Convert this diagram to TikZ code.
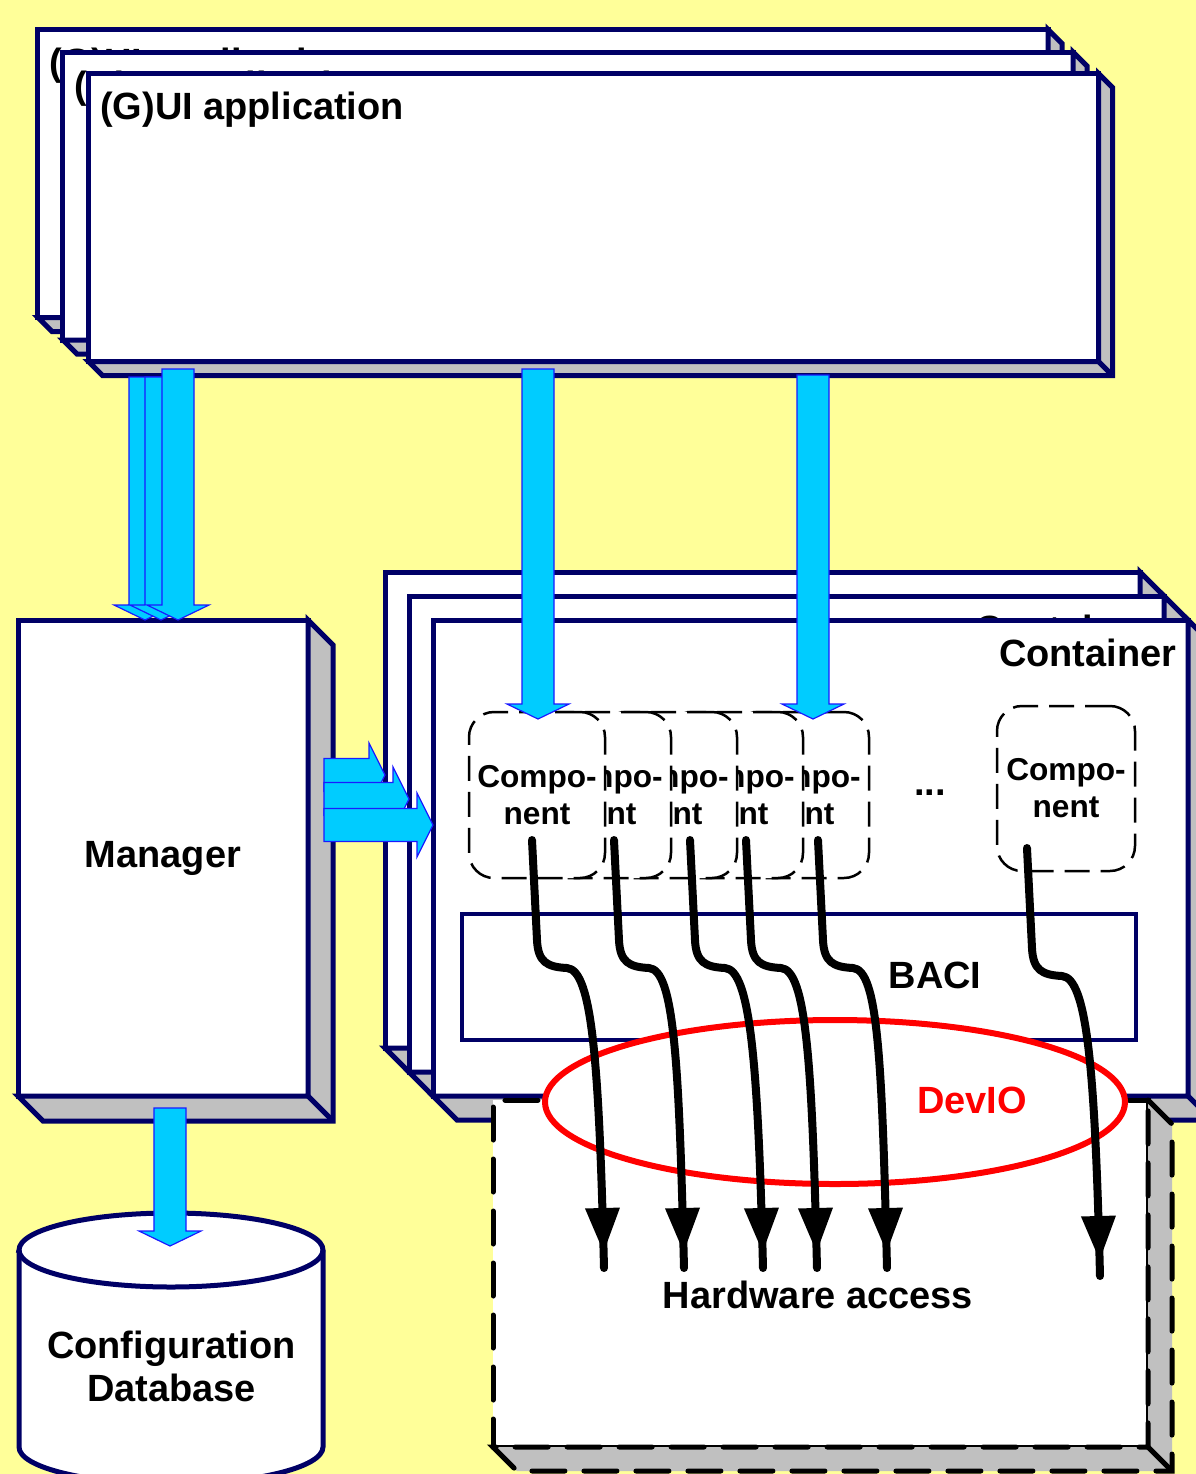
\documentclass[tikz,border=0pt]{standalone}
\usepackage{fontspec}
\setmainfont{Liberation Sans}
\usetikzlibrary{arrows.meta,calc,shapes.geometric,decorations.markings}

\definecolor{bgyellow}{HTML}{FFFF99}
\definecolor{navy}{HTML}{000066}
\definecolor{sidegray}{HTML}{C0C0C0}
\definecolor{arrowcyan}{HTML}{00CCFF}
\definecolor{arrowblue}{HTML}{1A1AFF}

% right and bottom faces of a box node: name, depth, style
\newcommand{\boxdepth}[3]{%
  \filldraw[#3] (#1.north east) -- ++(#2,-#2) -- ($(#1.south east)+(#2,-#2)$)
    -- ($(#1.south west)+(#2,-#2)$) -- (#1.south west) -- (#1.south east) -- cycle;
  \draw[#3] (#1.south east) -- ++(#2,-#2);}

\begin{document}
\begin{tikzpicture}[
    font=\fontsize{10.8pt}{12.3pt}\selectfont\bfseries,
    frontface/.style={draw=navy, fill=white, line width=0.05cm, inner sep=0pt, outer sep=0pt},
    navyside/.style={fill=sidegray, draw=navy, line width=0.05cm},
    hwside/.style={fill=sidegray, draw=black, line width=0.05cm,
                   dash pattern=on 0.33cm off 0.19cm, line cap=round},
    gui/.style={frontface, minimum width=10.10cm, minimum height=2.88cm},
    container/.style={frontface, minimum width=7.55cm, minimum height=4.76cm},
    comp/.style={draw=black, fill=white, line width=0.025cm, dash pattern=on 0.25cm off 0.11cm,
                 rounded corners=0.25cm, minimum width=1.36cm, minimum height=1.66cm,
                 inner sep=0pt, outer sep=0pt, align=center,
                 font=\fontsize{9pt}{10.5pt}\selectfont\bfseries},
    tag/.style={inner sep=0pt},
    blockdown/.style={draw=arrowblue, fill=arrowcyan, line width=0.012cm,
      to path={let \p1=(\tikztostart), \p2=(\tikztotarget) in
        (\x1-0.16cm,\y1) -- (\x1+0.16cm,\y1) -- (\x1+0.16cm,\y2+0.15cm)
        -- (\x1+0.31cm,\y2+0.15cm) -- (\x1,\y2) -- (\x1-0.31cm,\y2+0.15cm)
        -- (\x1-0.16cm,\y2+0.15cm) -- cycle}},
    blockright/.style={draw=arrowblue, fill=arrowcyan, line width=0.012cm,
      to path={let \p1=(\tikztostart), \p2=(\tikztotarget) in
        (\x1,\y1+0.165cm) -- (\x2-0.16cm,\y1+0.165cm) -- (\x2-0.16cm,\y1+0.32cm)
        -- (\x2,\y1) -- (\x2-0.16cm,\y1-0.32cm) -- (\x2-0.16cm,\y1-0.165cm)
        -- (\x1,\y1-0.165cm) -- cycle}},
    wire/.style={line width=0.08cm, line cap=round, line join=round,
      postaction={decorate},
      decoration={markings, mark=at position -0.16cm with
        {\arrow{Triangle[width=0.35cm,length=0.44cm,line width=0pt]}}},
      to path={let \p1=(\tikztostart), \p2=(\tikztotarget) in
        -- (\x1+0.05cm,\y1-1.0cm)
        .. controls (\x1+0.06cm,\y1-1.22cm) and (\x1+0.15cm,\y1-1.27cm) .. (\x1+0.35cm,\y1-1.28cm)
        .. controls (\x1+0.6cm,\y1-1.30cm) and (\x2-0.05cm,\y1-2.2cm) .. (\p2)}}
  ]

  \path[use as bounding box, fill=bgyellow] (0,0) rectangle (11.96,-14.74);
  \clip (0,0) rectangle (11.96,-14.74);

  % applications
  \node[gui] (gui1) at (5.43,-1.735) {};
  \boxdepth{gui1}{0.14}{navyside}
  \node[tag, anchor=base west] (gui1tag) at ([shift={(0.11,-0.46)}]gui1.north west) {(G)UI application};
  \node[gui] (gui2) at (5.68,-1.96) {};
  \boxdepth{gui2}{0.14}{navyside}
  \node[tag, anchor=base west] (gui2tag) at ([shift={(0.11,-0.46)}]gui2.north west) {(G)UI application};
  \node[gui] (gui3) at (5.935,-2.175) {};
  \boxdepth{gui3}{0.14}{navyside}
  \node[tag, anchor=base west] (gui3tag) at ([shift={(0.11,-0.46)}]gui3.north west) {(G)UI application};

  % containers
  \node[container] (con1) at (7.625,-8.10) {};
  \boxdepth{con1}{0.24}{navyside}
  \node[container] (con2) at (7.865,-8.34) {};
  \boxdepth{con2}{0.24}{navyside}
  \node[tag, anchor=base east] (con2tag) at ([shift={(-0.11,-0.46)}]con2.north east) {Container};
  \node[container] (con3) at (8.105,-8.58) {};
  \boxdepth{con3}{0.24}{navyside}
  \node[tag, anchor=base east] (con3tag) at ([shift={(-0.11,-0.46)}]con3.north east) {Container};

  \node[frontface, line width=0.04cm, minimum width=6.74cm, minimum height=1.26cm] (baci) at (7.99,-9.77) {};
  \node[tag] (bacitag) at (9.35,-9.75) {BACI};

  % components
  \node[comp] (c5) at (8.01,-7.95) {Compo-\\nent};
  \node[comp] (c4) at (7.35,-7.95) {Compo-\\nent};
  \node[comp] (c3) at (6.69,-7.95) {Compo-\\nent};
  \node[comp] (c2) at (6.03,-7.95) {Compo-\\nent};
  \node[comp] (c1) at (5.37,-7.95) {Compo-\\nent};
  \node[comp, minimum width=1.38cm, minimum height=1.65cm] (c6) at (10.66,-7.885) {Compo-\\nent};
  \node[tag] (dots) at (9.30,-7.93) {...};

  % manager
  \node[frontface, minimum width=2.90cm, minimum height=4.76cm] (mgr) at (1.63,-8.58) {Manager};
  \boxdepth{mgr}{0.25}{navyside}

  % requests
  \coordinate (g1) at (1.45,-3.77);
  \coordinate (g2) at (1.61,-3.77);
  \coordinate (g3) at (1.78,-3.69);
  \coordinate (g4) at (5.38,-3.69);
  \coordinate (g5) at (8.13,-3.75);
  \draw[blockdown] (g1) to (g1 |- mgr.north);
  \draw[blockdown] (g2) to (g2 |- mgr.north);
  \draw[blockdown] (g3) to (g3 |- mgr.north);
  \draw[blockdown] (g4) to ($(g4 |- c1.north)+(0,-0.07)$);
  \draw[blockdown] (g5) to ($(g5 |- c5.north)+(0,-0.07)$);

  \coordinate (m1) at (3.24,-7.75);
  \coordinate (m2) at (3.24,-7.99);
  \coordinate (m3) at (3.24,-8.25);
  \draw[blockright] (m1) to (m1 -| con1.west);
  \draw[blockright] (m2) to (m2 -| con2.west);
  \draw[blockright] (m3) to (m3 -| con3.west);

  % configuration database
  \filldraw[draw=navy, fill=white, line width=0.05cm] (0.19,-12.50) -- (0.19,-14.47)
    arc[start angle=180, end angle=360, x radius=1.52, y radius=0.37] -- (3.23,-12.50)
    arc[start angle=0, end angle=180, x radius=1.52, y radius=0.37] -- cycle;
  \draw[draw=navy, line width=0.05cm] (0.19,-12.50)
    arc[start angle=180, end angle=360, x radius=1.52, y radius=0.37];
  \node[align=center] (db) at (1.715,-13.665) {Configuration\\Database};
  \coordinate (md) at (1.70,-11.08);
  \coordinate (dbtop) at (1.70,-12.46);
  \draw[blockdown] (md) to (dbtop);

  % hardware
  \node[draw=black, fill=white, line width=0.05cm, dash pattern=on 0.33cm off 0.19cm,
        line cap=round, minimum width=6.55cm, minimum height=3.47cm,
        inner sep=0pt, outer sep=0pt] (hw) at (8.205,-12.735) {};
  \boxdepth{hw}{0.24}{hwside}
  \node[tag] (hwtag) at (8.18,-12.95) {Hardware access};

  \node[ellipse, draw=red, fill=white, line width=0.06cm, minimum width=5.80cm,
        minimum height=1.64cm, inner sep=0pt, outer sep=0pt] (devio) at (8.35,-11.02) {};
  \node[tag, text=red] (deviotag) at (9.72,-11.00) {DevIO};

  % device access
  \coordinate (h1) at (6.04,-12.68);
  \coordinate (h2) at (6.84,-12.68);
  \coordinate (h3) at (7.63,-12.68);
  \coordinate (h4) at (8.17,-12.68);
  \coordinate (h5) at (8.87,-12.68);
  \coordinate (h6) at (11.00,-12.76);
  \draw[wire] ([xshift=-0.05cm,yshift=0.38cm]c1.south) to (h1);
  \draw[wire] ([xshift=0.11cm,yshift=0.38cm]c2.south) to (h2);
  \draw[wire] ([xshift=0.21cm,yshift=0.38cm]c3.south) to (h3);
  \draw[wire] ([xshift=0.11cm,yshift=0.38cm]c4.south) to (h4);
  \draw[wire] ([xshift=0.17cm,yshift=0.38cm]c5.south) to (h5);
  \draw[wire] ([xshift=-0.39cm,yshift=0.23cm]c6.south) to (h6);
\end{tikzpicture}
\end{document}
